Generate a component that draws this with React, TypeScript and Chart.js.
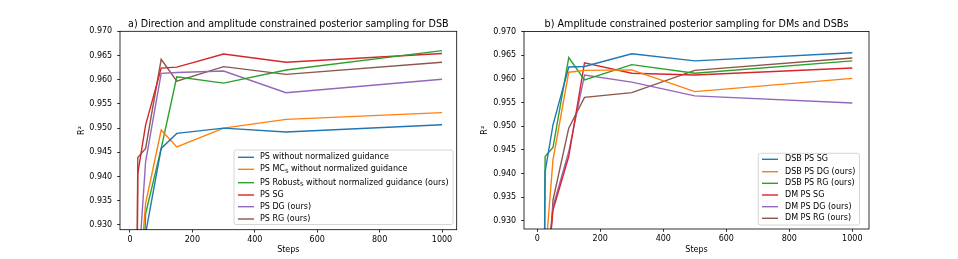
import React, { useEffect, useRef } from "react";
import { Chart, registerables } from "chart.js";

Chart.register(...registerables);

// ---------- data ----------
const steps = [10, 25, 50, 100, 150, 300, 500, 1000];
const xTicks = [0, 200, 400, 600, 800, 1000];
const yTicks = [0.93, 0.935, 0.94, 0.945, 0.95, 0.955, 0.96, 0.965, 0.97];

const titleA = "a) Direction and amplitude constrained posterior sampling for DSB";
const titleB = "b) Amplitude constrained posterior sampling for DMs and DSBs";

const labelsA = [
  "PS without normalized guidance",
  "PS MC_S without normalized guidance",
  "PS Robust_S without normalized guidance (ours)",
  "PS SG",
  "PS DG (ours)",
  "PS RG (ours)",
];
const psNoNorm = [0.8, 0.88, 0.9282, 0.9458, 0.9489, 0.95, 0.9492, 0.9507];
const psMcNoNorm = [0.8, 0.914, 0.9344, 0.9496, 0.9461, 0.95, 0.9518, 0.9532];
const psRobustNoNorm = [0.8, 0.889, 0.9323, 0.9458, 0.9606, 0.9593, 0.962, 0.966];
const psSG = [0.8, 0.9406, 0.9506, 0.9624, 0.9626, 0.9653, 0.9636, 0.9654];
const psDG = [0.8, 0.919, 0.943, 0.9613, 0.9615, 0.9618, 0.9573, 0.9601];
const psRG = [0.8, 0.9439, 0.9458, 0.9642, 0.9597, 0.9627, 0.9611, 0.9636];

const labelsB = [
  "DSB PS SG",
  "DSB PS DG (ours)",
  "DSB PS RG (ours)",
  "DM PS SG",
  "DM PS DG (ours)",
  "DM PS RG (ours)",
];
const dsbSG = [0.8, 0.9404, 0.9503, 0.9625, 0.9626, 0.9653, 0.9638, 0.9655];
const dsbDG = [0.8, 0.922, 0.9429, 0.9614, 0.9618, 0.9619, 0.9573, 0.9601];
const dsbRG = [0.8, 0.9436, 0.9455, 0.9645, 0.9598, 0.963, 0.9612, 0.9638];
const dmSG = [0.8, 0.915, 0.9323, 0.9436, 0.9634, 0.9612, 0.9608, 0.9623];
const dmDG = [0.8, 0.916, 0.933, 0.9446, 0.9608, 0.9593, 0.9564, 0.9549];
const dmRG = [0.8, 0.905, 0.9344, 0.9496, 0.9561, 0.9571, 0.9618, 0.9644];

const colors = ["#1f77b4", "#ff7f0e", "#2ca02c", "#d62728", "#9467bd", "#8c564b"];

const FONT = '"DejaVu Sans", "Liberation Sans", sans-serif';

type PanelCfg = {
  offset: number;
  width: number;
  area: { l: number; r: number; t: number; b: number };
  xMin: number;
  xMax: number;
  yMin: number;
  yMax: number;
  title: string;
  labels: string[];
  series: number[][];
  yLabelX: number;
  legend: { l: number; t: number; r: number; b: number; rows: number[]; hx: number; tx: number };
};

function drawLabel(ctx: CanvasRenderingContext2D, text: string, x: number, y: number) {
  const parts = text.split("_S");
  let cx = x;
  ctx.textAlign = "left";
  ctx.textBaseline = "middle";
  parts.forEach((p, i) => {
    ctx.font = `8px ${FONT}`;
    ctx.fillText(p, cx, y);
    cx += ctx.measureText(p).width;
    if (i < parts.length - 1) {
      ctx.font = `5.6px ${FONT}`;
      ctx.fillText("S", cx, y + 2);
      cx += ctx.measureText("S").width;
    }
  });
}

function makeChart(canvas: HTMLCanvasElement, p: PanelCfg) {
  const H = 259;
  const decor = {
    id: "decor",
    afterDraw(chart: any) {
      const ctx: CanvasRenderingContext2D = chart.ctx;
      const a = chart.chartArea;
      const o = p.offset;
      ctx.save();
      ctx.strokeStyle = "#000";
      ctx.lineWidth = 0.8;
      ctx.strokeRect(a.left, a.top, a.right - a.left, a.bottom - a.top);
      ctx.fillStyle = "#000";
      ctx.font = `9.6px ${FONT}`;
      ctx.textAlign = "center";
      ctx.textBaseline = "alphabetic";
      ctx.fillText(p.title, (a.left + a.right) / 2, a.top - 4.8);
      ctx.font = `8px ${FONT}`;
      ctx.textBaseline = "middle";
      ctx.fillText("Steps", (a.left + a.right) / 2, 250);
      ctx.save();
      ctx.translate(p.yLabelX - o, (a.top + a.bottom) / 2);
      ctx.rotate(-Math.PI / 2);
      ctx.fillText("R²", 0, 0);
      ctx.restore();
      // legend
      const L = p.legend;
      const lx = L.l - o, rx = L.r - o;
      const rad = 2;
      ctx.beginPath();
      ctx.moveTo(lx + rad, L.t);
      ctx.lineTo(rx - rad, L.t);
      ctx.quadraticCurveTo(rx, L.t, rx, L.t + rad);
      ctx.lineTo(rx, L.b - rad);
      ctx.quadraticCurveTo(rx, L.b, rx - rad, L.b);
      ctx.lineTo(lx + rad, L.b);
      ctx.quadraticCurveTo(lx, L.b, lx, L.b - rad);
      ctx.lineTo(lx, L.t + rad);
      ctx.quadraticCurveTo(lx, L.t, lx + rad, L.t);
      ctx.closePath();
      ctx.fillStyle = "rgba(255,255,255,0.8)";
      ctx.fill();
      ctx.strokeStyle = "#cccccc";
      ctx.lineWidth = 0.8;
      ctx.stroke();
      p.labels.forEach((lab, i) => {
        const y = L.rows[i];
        ctx.strokeStyle = colors[i];
        ctx.lineWidth = 1.4;
        ctx.beginPath();
        ctx.moveTo(L.hx - o, y);
        ctx.lineTo(L.hx - o + 16, y);
        ctx.stroke();
        ctx.fillStyle = "#000";
        drawLabel(ctx, lab, L.tx - o, y);
      });
      ctx.restore();
    },
  };

  return new Chart(canvas, {
    type: "line",
    data: {
      datasets: p.series.map((s, i) => ({
        label: p.labels[i],
        data: steps.map((x, j) => ({ x, y: s[j] })),
        borderColor: colors[i],
        backgroundColor: colors[i],
        borderWidth: 1.4,
        pointRadius: 0,
        tension: 0,
        fill: false,
      })),
    },
    options: {
      responsive: false,
      animation: false,
      devicePixelRatio: 1,
      layout: {
        padding: { left: 0, top: p.area.t, right: p.width - (p.area.r - p.offset), bottom: 0 },
      },
      plugins: { legend: { display: false }, title: { display: false }, tooltip: { enabled: false } },
      scales: {
        x: {
          type: "linear",
          min: p.xMin,
          max: p.xMax,
          afterBuildTicks: (s: any) => {
            s.ticks = xTicks.map((v) => ({ value: v }));
          },
          afterFit: (s: any) => {
            s.height = H - p.area.b;
          },
          ticks: {
            color: "#000",
            font: { family: FONT, size: 8 },
            padding: 2.3,
            maxRotation: 0,
            autoSkip: false,
            callback: (v: any) => String(v),
          },
          grid: { drawOnChartArea: false, drawTicks: true, tickLength: 2.8, color: "#000", lineWidth: 0.8 },
          border: { display: false },
        },
        y: {
          type: "linear",
          min: p.yMin,
          max: p.yMax,
          afterBuildTicks: (s: any) => {
            s.ticks = yTicks.map((v) => ({ value: v }));
          },
          afterFit: (s: any) => {
            s.width = p.area.l - p.offset;
          },
          ticks: {
            color: "#000",
            font: { family: FONT, size: 8 },
            padding: 5,
            autoSkip: false,
            callback: (v: any) => Number(v).toFixed(3),
          },
          grid: { drawOnChartArea: false, drawTicks: true, tickLength: 2.8, color: "#000", lineWidth: 0.8 },
          border: { display: false },
        },
      },
    },
    plugins: [decor],
  } as any);
}

const panelA: PanelCfg = {
  offset: 0,
  width: 479,
  area: { l: 120, r: 456.7, t: 31.3, b: 229.7 },
  xMin: -32,
  xMax: 1047,
  yMin: 0.929,
  yMax: 0.97,
  title: titleA,
  labels: labelsA,
  series: [psNoNorm, psMcNoNorm, psRobustNoNorm, psSG, psDG, psRG],
  yLabelX: 81.7,
  legend: { l: 234, t: 150, r: 453, b: 224.5, rows: [157.3, 169.3, 182.7, 195, 206.7, 219], hx: 238, tx: 260 },
};

const panelB: PanelCfg = {
  offset: 479,
  width: 479,
  area: { l: 524, r: 869, t: 31.5, b: 229 },
  xMin: -42,
  xMax: 1053,
  yMin: 0.9283,
  yMax: 0.97,
  title: titleB,
  labels: labelsB,
  series: [dsbSG, dsbDG, dsbRG, dmSG, dmDG, dmRG],
  yLabelX: 485,
  legend: { l: 758.3, t: 153.3, r: 859.5, b: 225, rows: [159.3, 171.7, 183.3, 195, 206.7, 218.3], hx: 762, tx: 785 },
};

export default function App() {
  const refA = useRef<HTMLCanvasElement>(null);
  const refB = useRef<HTMLCanvasElement>(null);
  useEffect(() => {
    const a = makeChart(refA.current!, panelA);
    const b = makeChart(refB.current!, panelB);
    return () => {
      a.destroy();
      b.destroy();
    };
  }, []);
  return (
    <div style={{ position: "absolute", left: 0, top: 0, width: 958, height: 259, background: "#fff" }}>
      <canvas ref={refA} width={479} height={259} style={{ position: "absolute", left: 0, top: 0, width: 479, height: 259 }} />
      <canvas ref={refB} width={479} height={259} style={{ position: "absolute", left: 479, top: 0, width: 479, height: 259 }} />
    </div>
  );
}
